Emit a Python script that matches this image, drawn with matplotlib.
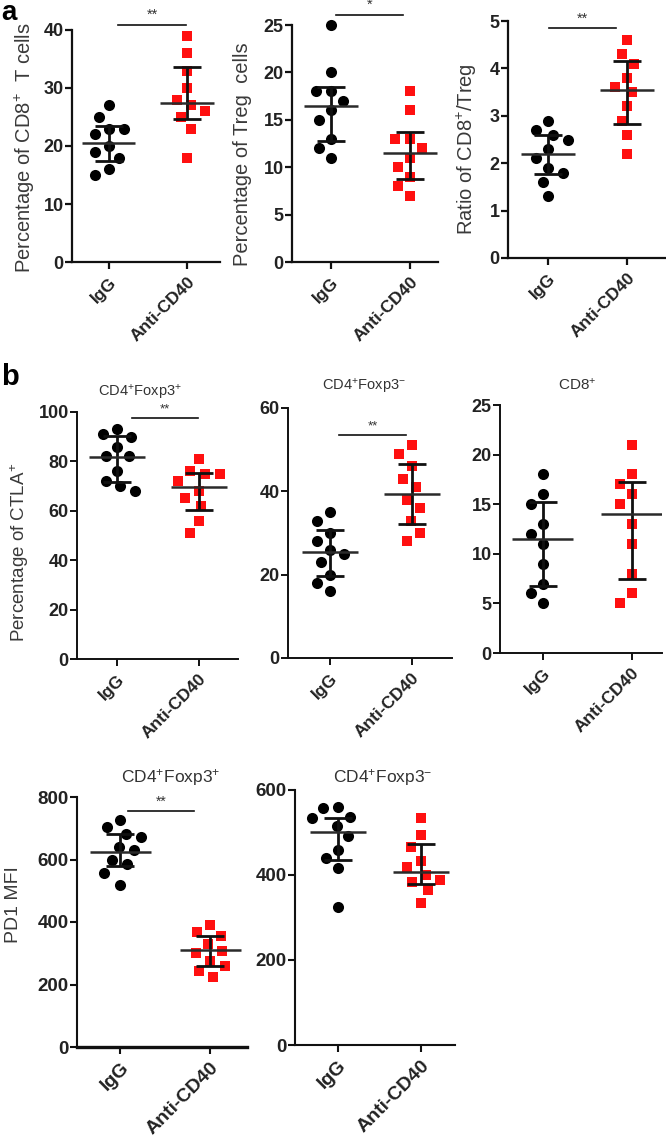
import numpy as np
import matplotlib
matplotlib.use("Agg")
import matplotlib.pyplot as plt

plt.rcParams['font.family'] = ['Liberation Sans', 'DejaVu Sans']
plt.rcParams['mathtext.fontset'] = 'custom'
plt.rcParams['mathtext.rm'] = 'Liberation Sans'
plt.rcParams['mathtext.it'] = 'Liberation Sans'
plt.rcParams['mathtext.bf'] = 'Liberation Sans:bold'

# ---------------- data ----------------
groups = ["IgG", "Anti-CD40"]

cd8_pct_igg = [27, 25, 23, 23, 22, 20, 19, 18, 16, 15]
cd8_pct_anti = [39, 36, 33, 30, 28, 27, 26, 25, 23, 18]
cd8_pct_mean = [20.5, 27.5]
cd8_pct_lo = [17.5, 24.6]
cd8_pct_hi = [23.5, 33.7]

treg_pct_igg = [25, 20, 18, 18, 17, 16, 15, 13, 12, 11]
treg_pct_anti = [18, 16, 13, 13, 12, 11, 10, 9, 8, 7]
treg_pct_mean = [16.5, 11.5]
treg_pct_lo = [12.8, 8.75]
treg_pct_hi = [18.5, 13.7]

ratio_igg = [2.9, 2.6, 2.7, 2.5, 2.3, 2.1, 1.9, 1.8, 1.6, 1.3]
ratio_anti = [4.6, 4.3, 4.1, 3.8, 3.6, 3.5, 3.2, 2.9, 2.6, 2.2]
ratio_mean = [2.2, 3.54]
ratio_lo = [1.78, 2.82]
ratio_hi = [2.6, 4.15]

ctla_pos_igg = [93, 91, 90, 86, 82, 82, 76, 72, 70, 68]
ctla_pos_anti = [81, 76, 75, 75, 72, 68, 65, 62, 56, 51]
ctla_pos_mean = [81.8, 69.7]
ctla_pos_lo = [71.8, 60.4]
ctla_pos_hi = [90.3, 75.2]

ctla_neg_igg = [35, 33, 30, 28, 26, 25, 23, 20, 18, 16]
ctla_neg_anti = [51, 49, 46, 43, 41, 38, 36, 33, 30, 28]
ctla_neg_mean = [25.4, 39.4]
ctla_neg_lo = [19.8, 32.2]
ctla_neg_hi = [30.7, 46.6]

ctla_cd8_igg = [18, 16, 15, 13, 12, 11, 9, 7, 6, 5]
ctla_cd8_anti = [21, 18, 17, 16, 15, 13, 11, 8, 6, 5]
ctla_cd8_mean = [11.5, 14.0]
ctla_cd8_lo = [6.8, 7.5]
ctla_cd8_hi = [15.2, 17.2]

pd1_pos_igg = [727, 704, 683, 672, 640, 629, 597, 585, 557, 517]
pd1_pos_anti = [390, 368, 356, 330, 308, 300, 275, 260, 242, 223]
pd1_pos_mean = [624, 310]
pd1_pos_lo = [579, 260]
pd1_pos_hi = [683, 356]

pd1_neg_igg = [559, 557, 536, 533, 515, 491, 459, 439, 416, 325]
pd1_neg_anti = [535, 494, 467, 434, 420, 400, 388, 384, 365, 333]
pd1_neg_mean = [502, 408]
pd1_neg_lo = [435, 378]
pd1_neg_hi = [535, 472]

# ---------------- figure ----------------
W, H = 666, 1142
fig = plt.figure(figsize=(W / 100, H / 100), dpi=100)
fig.patch.set_facecolor('white')


def make_ax(left, right, top, bottom, ymax, yticks, xlim, tick_fs, xtick_fs, lw=1.5):
    ax = fig.add_axes([left / W, 1 - bottom / H, (right - left) / W, (bottom - top) / H])
    ax.set_ylim(0, ymax)
    ax.set_xlim(*xlim)
    ax.set_yticks(yticks)
    ax.set_xticks([0, 1])
    ax.set_xticklabels(groups, rotation=45, ha='right', rotation_mode='anchor',
                       fontsize=xtick_fs, fontweight='bold', color='#222222')
    for lab in ax.get_yticklabels():
        lab.set_fontsize(tick_fs)
        lab.set_fontweight('bold')
        lab.set_color('#222222')
    for s in ['top', 'right']:
        ax.spines[s].set_visible(False)
    for s in ['left', 'bottom']:
        ax.spines[s].set_linewidth(lw)
        ax.spines[s].set_color('#111111')
    ax.tick_params(axis='both', width=lw, length=5, color='#111111')
    ax.tick_params(axis='y', pad=1)
    ax.tick_params(axis='x', pad=4)
    ax.patch.set_alpha(0)
    return ax


def swarm_offsets(ax, xc, vals, diam_px=15.0):
    vals = np.asarray(vals, float)
    pts = ax.transData.transform(np.column_stack([np.full(len(vals), xc), vals]))
    ys = pts[:, 1]
    cands = sorted(np.arange(-60, 60.5, 0.5), key=lambda o: (abs(o), o))
    placed = []
    offs = np.zeros(len(vals))
    for i in np.argsort(-ys):
        y = ys[i]
        chosen = 0.0
        for o in cands:
            if all((o - po) ** 2 + (y - py) ** 2 >= diam_px ** 2 for po, py in placed):
                chosen = o
                break
        placed.append((chosen, y))
        offs[i] = chosen
    bbox = ax.get_window_extent()
    x0, x1 = ax.get_xlim()
    return offs * (x1 - x0) / bbox.width


def draw_group(ax, igg, anti, mean, lo, hi, ms=8.0, half=0.34, cap=10):
    for xc, vals, mk, col, sz in [(0, igg, 'o', '#000000', ms), (1, anti, 's', '#ff1010', ms * 0.92)]:
        offs = swarm_offsets(ax, xc, vals)
        ax.plot(xc + offs, vals, linestyle='none', marker=mk, color=col,
                markersize=sz, markeredgewidth=0, zorder=2, clip_on=False)
    xs = np.array([0, 1])
    m = np.asarray(mean)
    yerr = np.vstack([m - np.asarray(lo), np.asarray(hi) - m])
    ax.errorbar(xs, m, yerr=yerr, fmt='none', ecolor='#111111', elinewidth=2.0,
                capsize=cap, capthick=2.0, zorder=3)
    ax.hlines(m, xs - half, xs + half, colors='#2a2a2a', linewidth=1.8, zorder=3)


def sig(ax, x0, x1, y, text, fs=10):
    ax.plot([x0, x1], [y, y], color='#111111', lw=1.2, clip_on=False)
    ax.annotate(text, xy=((x0 + x1) / 2, y), xytext=(0, 2), textcoords='offset points',
                ha='center', va='bottom', fontsize=fs, color='#333333', annotation_clip=False)


def ylab(xpx, ypx, text, fs):
    fig.text(xpx / W, 1 - ypx / H, text, rotation=90, ha='center', va='center',
             fontsize=fs, color='#3a3a3a')


def title(ax, xpx, ypx, text, fs):
    fig.text(xpx / W, 1 - ypx / H, text, ha='center', va='center', fontsize=fs, color='#333333')


# ---- row a ----
a1 = make_ax(72, 220, 30, 262, 40, [0, 10, 20, 30, 40], (-0.47, 1.42), 13, 12.5, 1.6)
draw_group(a1, cd8_pct_igg, cd8_pct_anti, cd8_pct_mean, cd8_pct_lo, cd8_pct_hi)
sig(a1, 0.12, 0.99, 40.9, '**', 10.5)
ylab(25, 148, r'Percentage of CD8$^{+}$  T cells', 14.5)

a2 = make_ax(292, 438, 25, 262, 25, [0, 5, 10, 15, 20, 25], (-0.49, 1.35), 13, 12.5, 1.6)
draw_group(a2, treg_pct_igg, treg_pct_anti, treg_pct_mean, treg_pct_lo, treg_pct_hi)
sig(a2, 0.06, 0.91, 26.05, '*', 10.5)
ylab(243, 154, r'Percentage of Treg  cells', 14.5)

a3 = make_ax(508, 665, 21, 258, 5, [0, 1, 2, 3, 4, 5], (-0.51, 1.48), 13, 12.5, 1.6)
draw_group(a3, ratio_igg, ratio_anti, ratio_mean, ratio_lo, ratio_hi)
sig(a3, 0.01, 0.86, 4.85, '**', 10.5)
ylab(467, 149, r'Ratio of CD8$^{+}$/Treg', 14.5)

fig.text(1 / W, 1 - 20 / H, 'a', fontsize=20, fontweight='bold', ha='left', va='baseline')

# ---- row b ----
b1 = make_ax(77, 238, 412, 659, 100, [0, 20, 40, 60, 80, 100], (-0.49, 1.48), 13, 12.5, 1.4)
draw_group(b1, ctla_pos_igg, ctla_pos_anti, ctla_pos_mean, ctla_pos_lo, ctla_pos_hi)
sig(b1, 0.18, 0.99, 97.6, '**', 9.5)
ylab(20, 552, r'Percentage of CTLA$^{+}$', 13.5)
title(b1, 140, 393, r'CD4$^{+}$Foxp3$^{+}$', 10.5)

b2 = make_ax(288, 452, 408, 658, 60, [0, 20, 40, 60], (-0.51, 1.49), 13, 12.5, 1.4)
draw_group(b2, ctla_neg_igg, ctla_neg_anti, ctla_neg_mean, ctla_neg_lo, ctla_neg_hi)
sig(b2, 0.11, 0.93, 53.5, '**', 9.5)
title(b2, 364, 387, r'CD4$^{+}$Foxp3$^{-}$', 10.5)

b3 = make_ax(500, 662, 405, 653, 25, [0, 5, 10, 15, 20, 25], (-0.48, 1.34), 13, 12.5, 1.4)
draw_group(b3, ctla_cd8_igg, ctla_cd8_anti, ctla_cd8_mean, ctla_cd8_lo, ctla_cd8_hi)
title(b3, 577, 385, r'CD8$^{+}$', 11)

fig.text(1 / W, 1 - 385 / H, 'b', fontsize=21, fontweight='bold', ha='left', va='baseline')

# ---- row c ----
c1 = make_ax(77, 247, 797, 1047, 800, [0, 200, 400, 600, 800], (-0.48, 1.41), 13.5, 14, 1.5)
c1.spines['bottom'].set_linewidth(2.4)
draw_group(c1, pd1_pos_igg, pd1_pos_anti, pd1_pos_mean, pd1_pos_lo, pd1_pos_hi)
sig(c1, 0.09, 0.82, 755, '**', 10)
ylab(14, 905, 'PD1 MFI', 14)
title(c1, 171, 778, r'CD4$^{+}$Foxp3$^{+}$', 12.5)

c2 = make_ax(295, 455, 790, 1045, 600, [0, 200, 400, 600], (-0.52, 1.41), 13.5, 14, 1.5)
draw_group(c2, pd1_neg_igg, pd1_neg_anti, pd1_neg_mean, pd1_neg_lo, pd1_neg_hi)
title(c2, 383, 778, r'CD4$^{+}$Foxp3$^{-}$', 12.5)

fig.savefig('out.png', dpi=100, facecolor='white')
